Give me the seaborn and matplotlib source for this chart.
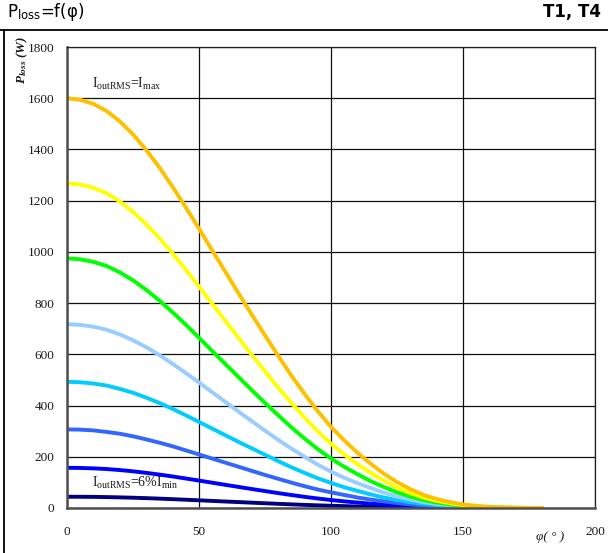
import matplotlib
matplotlib.use("Agg")
import matplotlib.pyplot as plt
from matplotlib.lines import Line2D
import pandas as pd
import seaborn as sns

sns.set_theme(style="white")
plt.rcParams["font.family"] = ["Liberation Serif", "DejaVu Sans"]
plt.rcParams["mathtext.fontset"] = "custom"
plt.rcParams["mathtext.rm"] = "Liberation Serif"
plt.rcParams["mathtext.it"] = "Liberation Serif:italic"
plt.rcParams["mathtext.bf"] = "Liberation Serif:bold"

# phase angle (degrees)
phi = [0, 5, 10, 15, 20, 25, 30, 35, 40, 45, 50, 55, 60, 65, 70, 75, 80, 85, 90,
       95, 100, 105, 110, 115, 120, 125, 130, 135, 140, 145, 150, 155, 160, 165,
       170, 175, 180]

# loss power (W) for each output current level, from I_max down to 6% I_min
p_imax = [1600, 1594, 1578, 1550, 1510, 1459, 1398, 1330, 1254, 1174, 1091, 1006,
          922, 838, 755, 674, 594, 517, 445, 378, 317, 264, 216, 173, 134, 101, 74,
          51, 35, 23, 14, 8.3, 4.5, 2.2, 1, 0.3, 0]
p_lvl2 = [1268, 1263, 1250, 1229, 1197, 1156, 1108, 1054, 994, 931, 865, 798, 730,
          664, 598, 534, 470, 410, 353, 299, 251, 209, 171, 137, 107, 80, 58, 41,
          28, 18.4, 11.4, 6.6, 3.6, 1.8, 0.8, 0.25, 0]
p_lvl3 = [975, 971, 961, 945, 920, 889, 852, 810, 764, 716, 665, 613, 562, 511, 460,
          410, 362, 315, 271, 230, 193, 161, 132, 105, 82, 61, 45, 31, 21.5, 14.1,
          8.8, 5.1, 2.7, 1.4, 0.6, 0.2, 0]
p_lvl4 = [718, 715, 708, 696, 678, 655, 628, 597, 563, 527, 490, 452, 414, 376, 339,
          302, 266, 232, 200, 169, 142, 118, 97, 78, 60, 45, 33, 23, 15.8, 10.4,
          6.5, 3.7, 2, 1, 0.4, 0.15, 0]
p_lvl5 = [493, 491, 486, 478, 465, 450, 431, 410, 387, 362, 336, 310, 284, 258, 233,
          208, 183, 159, 137, 116, 98, 81, 67, 53, 41, 31, 23, 15.8, 10.8, 7.1, 4.4,
          2.6, 1.4, 0.7, 0.3, 0.1, 0]
p_lvl6 = [307, 306, 303, 297, 290, 280, 268, 255, 241, 225, 209, 193, 177, 161, 145,
          129, 114, 99, 85, 72, 61, 51, 41, 33, 26, 19.3, 14.1, 9.8, 6.8, 4.5, 2.8,
          1.6, 0.9, 0.4, 0.2, 0.06, 0]
p_lvl7 = [157, 156.4, 154.8, 152.1, 148.2, 143.2, 137.2, 130.5, 123.1, 115.2, 107.1,
          98.8, 90.4, 82.3, 74.1, 66.1, 58.2, 50.7, 43.6, 37.1, 31.1, 25.9, 21.2,
          17.0, 13.2, 9.9, 7.2, 5.0, 3.5, 2.3, 1.4, 0.8, 0.4, 0.2, 0.1, 0.03, 0]
p_imin6 = [44, 43.8, 43.4, 42.6, 41.5, 40.1, 38.5, 36.6, 34.5, 32.3, 30.0, 27.7,
           25.3, 23.1, 20.8, 18.5, 16.3, 14.2, 12.2, 10.4, 8.7, 7.3, 5.9, 4.8, 3.7,
           2.8, 2.0, 1.4, 1.0, 0.6, 0.4, 0.2, 0.1, 0.06, 0.03, 0.01, 0]

curve_names = ["6% Imin", "L7", "L6", "L5", "L4", "L3", "L2", "Imax"]
curve_values = [p_imin6, p_lvl7, p_lvl6, p_lvl5, p_lvl4, p_lvl3, p_lvl2, p_imax]
curve_colors = ["#000080", "#0000FF", "#3366FF", "#00CCFF", "#99CCFF", "#00FF00",
                "#FFFF00", "#FFC000"]

x_ticks = [0, 50, 100, 150, 200]
y_ticks = [0, 200, 400, 600, 800, 1000, 1200, 1400, 1600, 1800]

df = pd.concat(
    [pd.DataFrame({"phi": phi, "P": vals, "curve": name})
     for name, vals in zip(curve_names, curve_values)],
    ignore_index=True,
)

W, H = 608, 553
fig = plt.figure(figsize=(W / 100, H / 100), dpi=100)
fig.patch.set_facecolor("white")
ax = fig.add_axes([67 / W, 1 - 508 / H, (595 - 67) / W, (508 - 47) / H])

sns.lineplot(data=df, x="phi", y="P", hue="curve", hue_order=curve_names,
             palette=dict(zip(curve_names, curve_colors)), linewidth=2.8,
             estimator=None, sort=False, legend=False, ax=ax)
for line in ax.get_lines():
    line.set_solid_joinstyle("round")

ax.set_xlim(0, 200)
ax.set_ylim(0, 1800)
ax.set_xticks(x_ticks)
ax.set_yticks(y_ticks)
ax.set_xlabel("")
ax.set_ylabel("")
ax.grid(True, color="#101010", linewidth=0.9)
ax.set_axisbelow(True)
ax.tick_params(axis="both", length=0, labelsize=9.5, colors="#1a1a1a")
ax.tick_params(axis="x", pad=13)
ax.tick_params(axis="y", pad=9)
for side in ["top", "right"]:
    ax.spines[side].set_color("#202020")
    ax.spines[side].set_linewidth(0.9)
for side in ["left", "bottom"]:
    ax.spines[side].set_color("#505050")
    ax.spines[side].set_linewidth(1.8)

# curve labels
ax.text(9.5, 1655, r"I$_{\mathregular{outRMS}}$=I$_{\mathregular{max}}$",
        fontsize=10, va="center", ha="left", color="#1a1a1a")
ax.text(9.6, 98, r"I$_{\mathregular{outRMS}}$=6%I$_{\mathregular{min}}$",
        fontsize=10, va="center", ha="left", color="#1a1a1a")

# axis titles
fig.text(22 / W, 1 - 60 / H, r"$\mathregular{P_{loss}}$ (W)", rotation=90,
         ha="center", va="center", fontsize=9.5, fontstyle="italic",
         fontweight="bold", color="#1a1a1a")
fig.text(550 / W, 1 - 537 / H, "φ( ° )", ha="center", va="center",
         fontsize=9.5, fontstyle="italic", color="#1a1a1a")

# header
fig.text(7 / W, 1 - 17 / H, r"P$_{\mathregular{loss}}$=f(φ)", fontfamily="DejaVu Sans",
         fontsize=12, ha="left", va="baseline", color="black")
fig.text(601 / W, 1 - 17 / H, "T1, T4", fontfamily="DejaVu Sans", fontsize=12,
         fontweight="bold", ha="right", va="baseline", color="black")

# frame lines
fig.add_artist(Line2D([0, 1], [1 - 30 / H, 1 - 30 / H], transform=fig.transFigure,
                      color="black", linewidth=1.3))
fig.add_artist(Line2D([3.5 / W, 3.5 / W], [0, 1 - 30 / H], transform=fig.transFigure,
                      color="black", linewidth=1.3))

fig.savefig("out.png", dpi=100, facecolor="white")
